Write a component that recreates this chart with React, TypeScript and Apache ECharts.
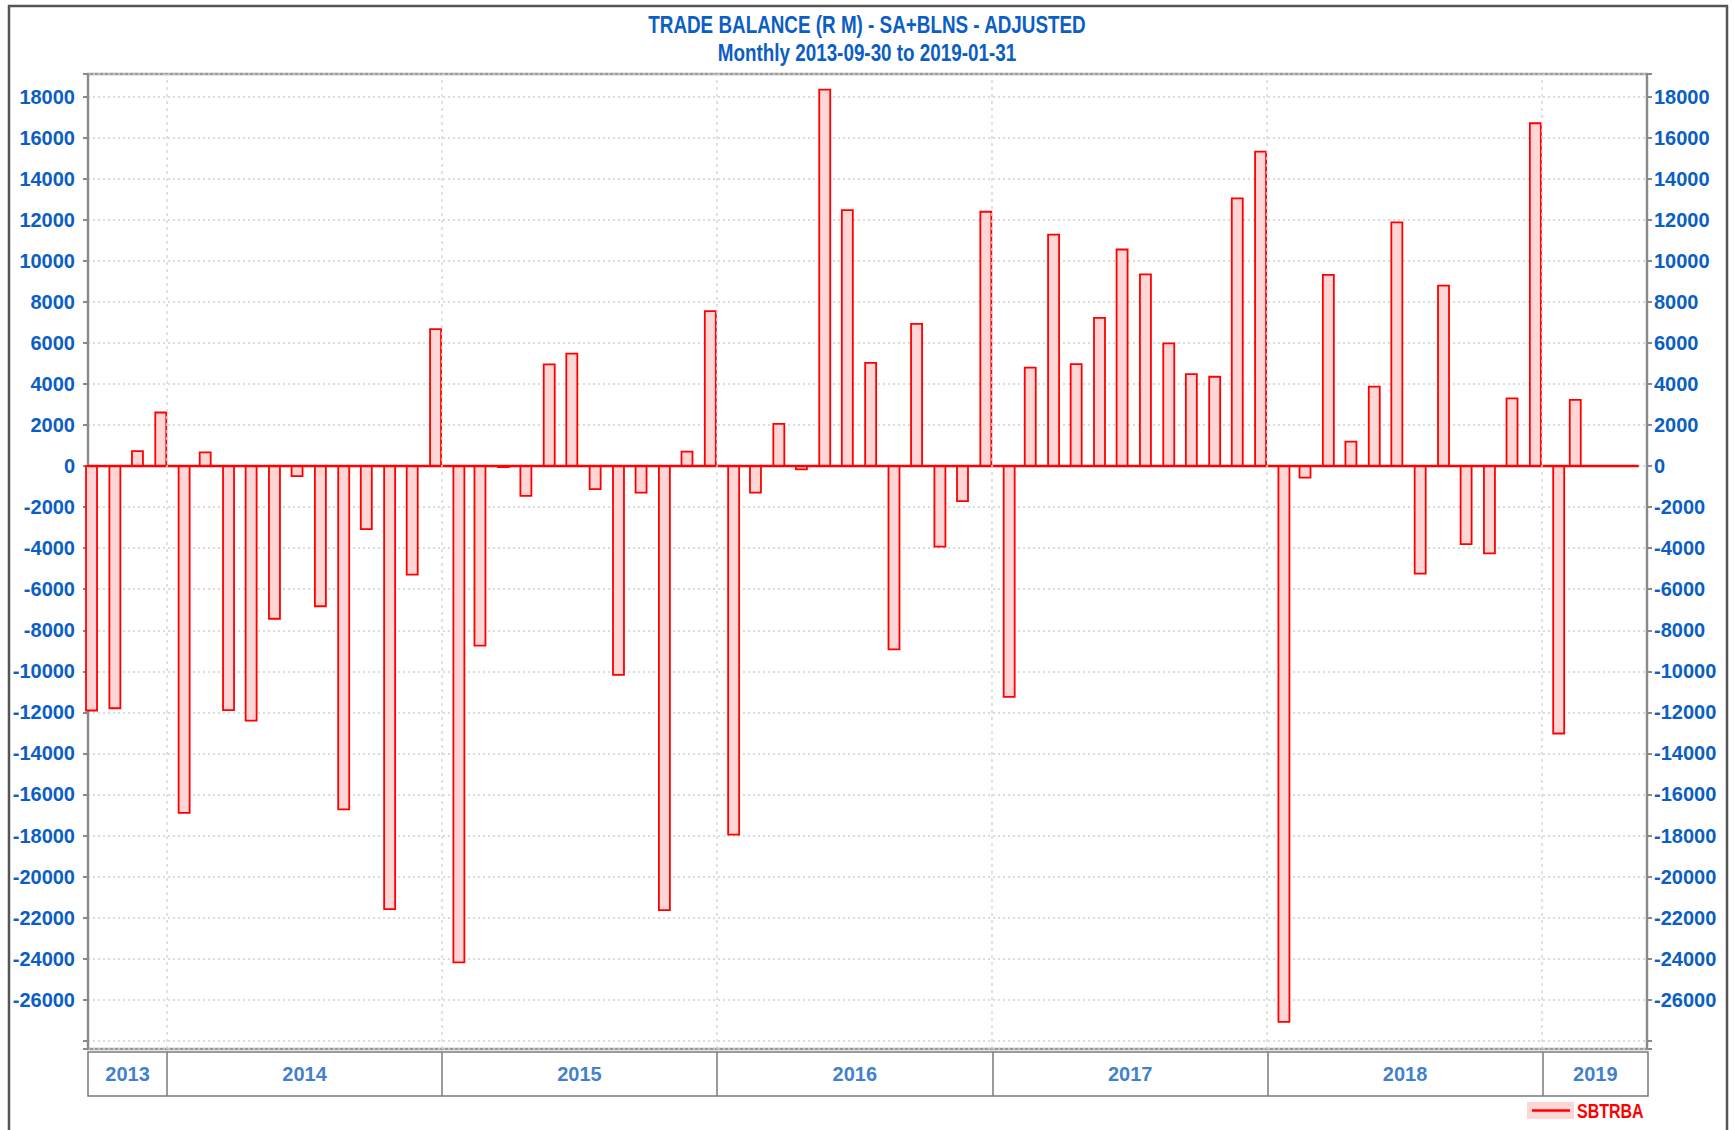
import React, { useEffect, useRef } from "react";
import * as echarts from "echarts";

const monthEnds: string[] = [
  "2013-09-30", "2013-10-31", "2013-11-30", "2013-12-31",
  "2014-01-31", "2014-02-28", "2014-03-31", "2014-04-30", "2014-05-31", "2014-06-30",
  "2014-07-31", "2014-08-31", "2014-09-30", "2014-10-31", "2014-11-30", "2014-12-31",
  "2015-01-31", "2015-02-28", "2015-03-31", "2015-04-30", "2015-05-31", "2015-06-30",
  "2015-07-31", "2015-08-31", "2015-09-30", "2015-10-31", "2015-11-30", "2015-12-31",
  "2016-01-31", "2016-02-29", "2016-03-31", "2016-04-30", "2016-05-31", "2016-06-30",
  "2016-07-31", "2016-08-31", "2016-09-30", "2016-10-31", "2016-11-30", "2016-12-31",
  "2017-01-31", "2017-02-28", "2017-03-31", "2017-04-30", "2017-05-31", "2017-06-30",
  "2017-07-31", "2017-08-31", "2017-09-30", "2017-10-31", "2017-11-30", "2017-12-31",
  "2018-01-31", "2018-02-28", "2018-03-31", "2018-04-30", "2018-05-31", "2018-06-30",
  "2018-07-31", "2018-08-31", "2018-09-30", "2018-10-31", "2018-11-30", "2018-12-31",
  "2019-01-31", "2019-02-22",
];

const sbtrba: number[] = [
  -11910, -11800, 730, 2610,
  -16900, 670, -11890, -12400, -7440, -490, -6830, -16730, -3070, -21590, -5290, 6670,
  -24180, -8750, -50, -1450, 4950, 5480, -1120, -10170, -1290, -21630, 700, 7550,
  -17960, -1290, 2050, -160, 18340, 12470, 5030, -8930, 6930, -3930, -1710, 12390,
  -11250, 4800, 11270, 4970, 7220, 10550, 9340, 5980, 4480, 4350, 13040, 15320,
  -27080, -560, 9310, 1190, 3870, 11870, -5240, 8790, -3800, -4250, 3300, 16700,
  -13030, 3220,
];

const years: string[] = ["2013", "2014", "2015", "2016", "2017", "2018", "2019"];
const titleLines: string[] = [
  "TRADE BALANCE (R M) - SA+BLNS - ADJUSTED",
  "Monthly 2013-09-30 to 2019-01-31",
];
const seriesName = "SBTRBA";
const yTickStep = 2000;
const yLabelMin = -26000;
const yLabelMax = 18000;
const yMin = -28400;
const yMax = 19100;
const xMin = "2013-09-18";
const xMax = "2019-05-21";
const baselineEnd = "2019-05-10";

const BLUE = "#0a5ec4";
const RED = "#ff0000";
const PINK = "#ffd6d6";
const FONT = '"Liberation Sans", Arial, sans-serif';

function ts(s: string): number {
  const [y, m, d] = s.split("-").map(Number);
  return new Date(y, m - 1, d).getTime();
}

export default function App() {
  const ref = useRef<HTMLDivElement>(null);

  useEffect(() => {
    if (!ref.current) return;
    const chart = echarts.init(ref.current, null, { renderer: "svg" });

    const xMinTs = ts(xMin);
    const xMaxTs = ts(xMax);
    const yearStarts = years.slice(1).map((y) => `${y}-01-01`);
    const yearMids = years.map((y) => {
      const s = Math.max(xMinTs, ts(`${y}-01-01`));
      const e = Math.min(xMaxTs, ts(`${Number(y) + 1}-01-01`));
      return [(s + e) / 2, 0.5, y];
    });

    const labelFmt = (v: number) =>
      v % yTickStep === 0 && v >= yLabelMin && v <= yLabelMax ? String(v) : "";

    const yAxisCommon = {
      type: "value",
      min: yMin,
      max: yMax,
      minInterval: yTickStep,
      maxInterval: yTickStep,
      axisLine: { show: true, lineStyle: { color: "#8a8a8a", width: 2 } },
      axisTick: { show: true, length: 5, lineStyle: { color: "#8a8a8a", width: 2 } },
    };

    const axisLabelStyle = {
      show: true,
      color: BLUE,
      fontFamily: FONT,
      fontSize: 20,
      fontWeight: "bold",
      formatter: labelFmt,
    };

    chart.setOption({
      animation: false,
      backgroundColor: "#ffffff",
      grid: [
        {
          left: 88,
          right: 87,
          top: 74,
          bottom: 81,
          show: true,
          borderColor: "#9a9a9a",
          borderWidth: 2.5,
          backgroundColor: "#ffffff",
        },
        {
          left: 88,
          right: 86,
          top: 1052,
          height: 44,
          show: true,
          borderColor: "#7a7a7a",
          borderWidth: 1.5,
          backgroundColor: "#ffffff",
        },
      ],
      xAxis: [
        {
          type: "time",
          gridIndex: 0,
          min: xMin,
          max: xMax,
          axisLine: { show: false },
          axisTick: { show: false },
          axisLabel: { show: false },
          splitLine: { show: false },
        },
        {
          type: "time",
          gridIndex: 1,
          min: xMin,
          max: xMax,
          axisLine: { show: false },
          axisTick: { show: false },
          axisLabel: { show: false },
          splitLine: { show: false },
        },
      ],
      yAxis: [
        {
          ...yAxisCommon,
          gridIndex: 0,
          position: "left",
          axisLabel: { ...axisLabelStyle, margin: 13 },
          splitLine: {
            show: true,
            lineStyle: { color: "#cfcfcf", width: 1.5, type: [2, 3] },
          },
        },
        {
          ...yAxisCommon,
          gridIndex: 0,
          position: "right",
          axisLabel: { ...axisLabelStyle, margin: 7 },
          splitLine: { show: false },
        },
        {
          type: "value",
          gridIndex: 1,
          min: 0,
          max: 1,
          show: false,
        },
      ],
      series: [
        {
          name: "years",
          type: "line",
          xAxisIndex: 0,
          yAxisIndex: 0,
          data: [],
          silent: true,
          markLine: {
            silent: true,
            symbol: "none",
            label: { show: false },
            lineStyle: { color: "#d8d8d8", width: 1.5, type: [3, 4] },
            data: yearStarts.map((d) => ({ xAxis: d })),
          },
        },
        {
          name: seriesName,
          type: "custom",
          xAxisIndex: 0,
          yAxisIndex: 0,
          data: monthEnds.map((d, i) => [d, sbtrba[i]]),
          encode: { x: 0, y: 1 },
          z: 3,
          renderItem: (params: any, api: any) => {
            const x = api.value(0);
            const v = api.value(1);
            const p0 = api.coord([x, 0]);
            const p1 = api.coord([x, v]);
            const w = 11;
            return {
              type: "rect",
              shape: {
                x: p0[0] - w,
                y: Math.min(p0[1], p1[1]),
                width: w,
                height: Math.abs(p1[1] - p0[1]),
              },
              style: { fill: PINK, stroke: RED, lineWidth: 1.8 },
            };
          },
        },
        {
          name: "baseline",
          type: "line",
          xAxisIndex: 0,
          yAxisIndex: 0,
          data: [
            [xMin, 0],
            [baselineEnd, 0],
          ],
          symbol: "none",
          silent: true,
          z: 4,
          lineStyle: { color: RED, width: 2.5 },
        },
        {
          name: "yearBand",
          type: "scatter",
          xAxisIndex: 1,
          yAxisIndex: 2,
          data: yearMids,
          symbolSize: 1,
          silent: true,
          itemStyle: { color: "rgba(0,0,0,0)" },
          label: {
            show: true,
            position: "inside",
            formatter: (p: any) => p.value[2],
            color: BLUE,
            fontFamily: FONT,
            fontSize: 20,
            fontWeight: "bold",
          },
          markLine: {
            silent: true,
            symbol: "none",
            label: { show: false },
            lineStyle: { color: "#7a7a7a", width: 1.5, type: "solid" },
            data: yearStarts.map((d) => ({ xAxis: d })),
          },
        },
      ],
      graphic: [
        {
          type: "rect",
          silent: true,
          shape: { x: 9, y: 6, width: 1718, height: 1140 },
          style: { fill: "none", stroke: "#555555", lineWidth: 2.5 },
          z: 100,
        },
        {
          type: "text",
          silent: true,
          x: 867,
          y: 25,
          scaleX: 0.82,
          style: {
            text: titleLines[0],
            fill: BLUE,
            font: `bold 23px ${FONT}`,
            align: "center",
            verticalAlign: "middle",
          },
        },
        {
          type: "text",
          silent: true,
          x: 867,
          y: 53,
          scaleX: 0.82,
          style: {
            text: titleLines[1],
            fill: BLUE,
            font: `bold 23px ${FONT}`,
            align: "center",
            verticalAlign: "middle",
          },
        },
        {
          type: "rect",
          silent: true,
          shape: { x: 1527, y: 1102, width: 47, height: 17 },
          style: { fill: PINK },
        },
        {
          type: "line",
          silent: true,
          shape: { x1: 1532, y1: 1110.5, x2: 1570, y2: 1110.5 },
          style: { stroke: RED, lineWidth: 2.5 },
        },
        {
          type: "text",
          silent: true,
          x: 1577,
          y: 1111,
          scaleX: 0.8,
          style: {
            text: seriesName,
            fill: RED,
            font: `bold 20px ${FONT}`,
            verticalAlign: "middle",
            align: "left",
          },
        },
      ],
    });

    return () => chart.dispose();
  }, []);

  return (
    <div
      ref={ref}
      style={{ position: "fixed", left: 0, top: 0, width: 1734, height: 1130, background: "#fff" }}
    />
  );
}
